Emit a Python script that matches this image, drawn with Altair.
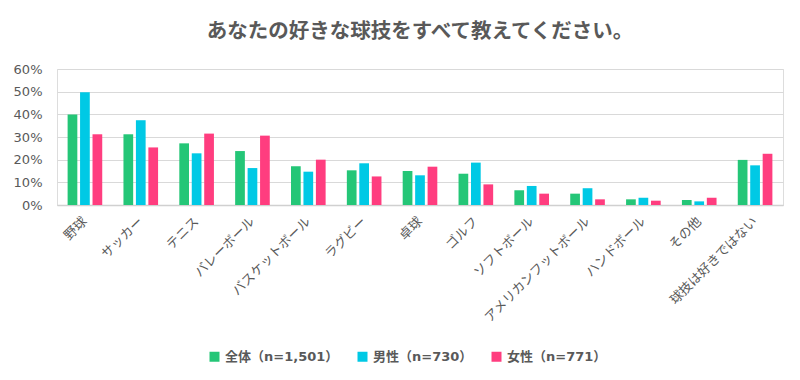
import altair as alt
import pandas as pd

categories = ["野球", "サッカー", "テニス", "バレーボール", "バスケットボール", "ラグビー",
              "卓球", "ゴルフ", "ソフトボール", "アメリカンフットボール", "ハンドボール",
              "その他", "球技は好きではない"]
series = ["全体（n=1,501）", "男性（n=730）", "女性（n=771）"]
all_vals = [39.9, 31.2, 27.2, 23.8, 17.1, 15.3, 15.0, 13.8, 6.5, 5.0, 2.5, 2.2, 19.9]
male_vals = [49.7, 37.4, 22.8, 16.3, 14.7, 18.4, 13.1, 18.7, 8.4, 7.4, 3.2, 1.6, 17.5]
female_vals = [31.2, 25.4, 31.5, 30.6, 20.0, 12.6, 16.9, 9.1, 5.0, 2.5, 1.9, 3.2, 22.6]
colors = ["#24C677", "#00C9E5", "#FF3D7F"]
y_ticks = [0, 0.1, 0.2, 0.3, 0.4, 0.5, 0.6]

rows = []
for s, vals in zip(series, [all_vals, male_vals, female_vals]):
    for c, v in zip(categories, vals):
        rows.append({"category": c, "series": s, "value": v / 100})
df = pd.DataFrame(rows)

FONT = "DejaVu Sans, Noto Sans CJK JP, sans-serif"
TXT = "#595959"

chart = alt.Chart(df).mark_bar().encode(
    x=alt.X("category:N", sort=categories,
            scale=alt.Scale(paddingInner=0.38, paddingOuter=0.19),
            axis=alt.Axis(title=None, labelAngle=-45, ticks=False, domain=True,
                          domainColor="#D0D0D0", domainWidth=1.5, labelPadding=14,
                          labelFontSize=13, labelColor=TXT, labelFont=FONT,
                          labelAlign="right", labelBaseline="middle")),
    xOffset=alt.XOffset("series:N", sort=series,
                        scale=alt.Scale(paddingInner=0.22, paddingOuter=0)),
    y=alt.Y("value:Q", scale=alt.Scale(domain=[0, 0.6]),
            axis=alt.Axis(title=None, values=y_ticks, format=".0%", domain=False,
                          ticks=False, grid=True, gridColor="#D9D9D9", gridWidth=1,
                          labelPadding=15, labelFontSize=13, labelColor=TXT,
                          labelFont=FONT, minExtent=49, maxExtent=49)),
    color=alt.Color("series:N", sort=series,
                    scale=alt.Scale(domain=series, range=colors),
                    legend=alt.Legend(title=None, orient="none", direction="horizontal",
                                      legendX=151, legendY=281, symbolType="square",
                                      symbolSize=100, symbolStrokeWidth=0,
                                      labelFontSize=13, labelFont=FONT,
                                      labelColor=TXT, labelFontWeight="bold",
                                      columnPadding=17, labelOffset=4)),
).properties(
    width=726, height=136,
    padding={"left": 0, "top": 13, "right": 5, "bottom": 5},
    title=alt.Title("あなたの好きな球技をすべて教えてください。", fontSize=20.5,
                    font=FONT, color=TXT, fontWeight="bold", offset=21, anchor="middle"),
).configure_view(stroke=None).configure(background="white")

chart.save("out.html", embed_options={"renderer": "svg", "actions": False})
